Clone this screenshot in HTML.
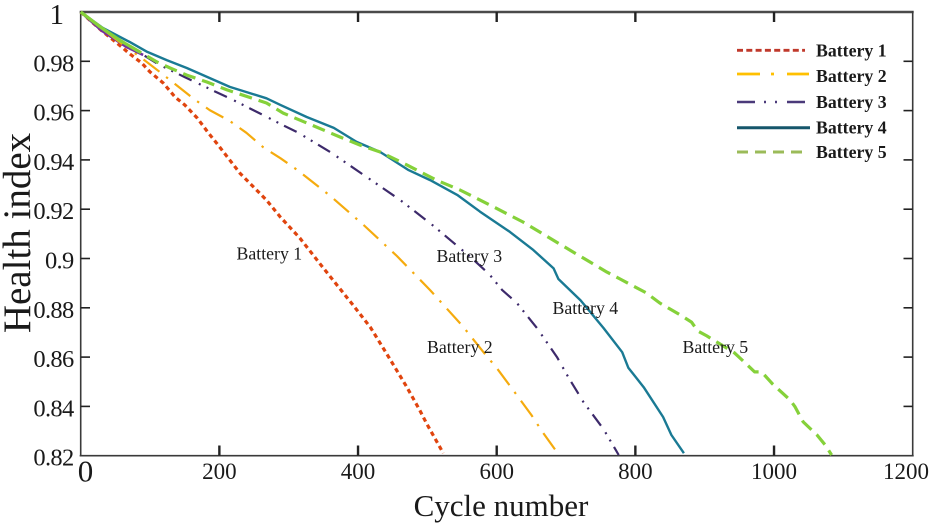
<!DOCTYPE html>
<html>
<head>
<meta charset="utf-8">
<title>Battery health index</title>
<style>
html,body{margin:0;padding:0;background:#fff;width:931px;height:526px;overflow:hidden}
svg{display:block}
text{font-family:"Liberation Serif",serif;fill:#1a1a1a}
</style>
</head>
<body>
<svg id="chart" xmlns="http://www.w3.org/2000/svg" width="931" height="526" viewBox="0 0 931 526">
<rect x="80.7" y="12" width="832" height="443.7" fill="none" stroke="none"/>
<text transform="translate(30,233) rotate(-90)" font-size="39" text-anchor="middle">Health index</text>
<text x="501" y="516" font-size="31" text-anchor="middle">Cycle number</text>
</svg>
<script>
const xTicks = [0, 200, 400, 600, 800, 1000, 1200];
const yTicks = [1, 0.98, 0.96, 0.94, 0.92, 0.9, 0.88, 0.86, 0.84, 0.82];
const yTickLabels = ['1', '0.98', '0.96', '0.94', '0.92', '0.9', '0.88', '0.86', '0.84', '0.82'];
const seriesNames = ['Battery 1', 'Battery 2', 'Battery 3', 'Battery 4', 'Battery 5'];

const battery1Cycles = [0, 30, 61, 69, 88, 100, 119, 136, 150, 168, 184, 196, 230, 268, 288, 316, 350, 393, 418, 442, 470, 489, 499, 523];
const battery1Health = [1, .9925, .9854, .9834, .9793, .9757, .9712, .9655, .9623, .957, .951, .9468, .9345, .9237, .9168, .9083, .8961, .881, .872, .861, .848, .8385, .833, .821];

const battery2Cycles = [0, 30, 60, 88, 114, 136, 162, 186, 215, 239, 263, 288, 312, 360, 408, 456, 504, 552, 581, 601, 629, 650, 666, 688];
const battery2Health = [1, .9935, .987, .9813, .9757, .9708, .965, .9602, .9558, .951, .9452, .9407, .936, .9254, .9136, .901, .8872, .8722, .862, .8552, .8446, .8365, .8296, .821];

const battery3Cycles = [0, 30, 66, 90, 114, 150, 168, 198, 215, 263, 288, 314, 362, 410, 461, 509, 562, 589, 608, 629, 658, 687, 703, 725, 754, 776];
const battery3Health = [1, .9925, .9858, .9826, .9785, .9736, .9712, .9672, .965, .9582, .9546, .951, .9428, .9335, .9237, .9132, .9006, .8937, .8872, .882, .8718, .86, .852, .8418, .8308, .8203];

const battery4Cycles = [0, 32, 71, 96, 124, 153, 215, 268, 288, 326, 365, 398, 432, 472, 504, 543, 576, 619, 653, 682, 689, 721, 754, 781, 790, 812, 840, 852, 870];
const battery4Health = [1, .9935, .9878, .9838, .9805, .9773, .9696, .965, .9623, .9574, .953, .9473, .9432, .936, .9318, .9258, .919, .9108, .9034, .896, .8917, .883, .8718, .862, .8556, .8478, .8357, .8284, .821];

const battery5Cycles = [0, 28, 56, 85, 110, 129, 153, 182, 211, 268, 292, 336, 374, 403, 432, 470, 513, 547, 595, 638, 686, 759, 778, 816, 835, 867, 881, 890, 903, 943, 960, 972, 982, 998, 1023, 1030, 1042, 1062, 1074, 1083];
const battery5Health = [1, .994, .9886, .9838, .9797, .9773, .9744, .9716, .9684, .9631, .959, .9538, .9493, .946, .9432, .938, .9318, .9278, .921, .9148, .9067, .8945, .8917, .886, .882, .8767, .8742, .8706, .8686, .8617, .8572, .854, .854, .8491, .8426, .84, .8337, .8284, .8243, .8203];

const svgNS = 'http://www.w3.org/2000/svg';
const svg = document.getElementById('chart');
const X = v => 80.7 + (v / 1200) * 832;
const Y = v => 12 + ((1 - v) / 0.18) * 443.7;

function line(x1, y1, x2, y2, color, width) {
  const el = document.createElementNS(svgNS, 'line');
  el.setAttribute('x1', x1);
  el.setAttribute('y1', y1);
  el.setAttribute('x2', x2);
  el.setAttribute('y2', y2);
  el.setAttribute('stroke', color);
  el.setAttribute('stroke-width', width);
  svg.appendChild(el);
  return el;
}
function label(str, x, y, size, anchor, weight) {
  const el = document.createElementNS(svgNS, 'text');
  el.setAttribute('x', x);
  el.setAttribute('y', y);
  el.setAttribute('font-size', size);
  el.setAttribute('text-anchor', anchor);
  if (weight) el.setAttribute('font-weight', weight);
  el.textContent = str;
  svg.appendChild(el);
  return el;
}

/* frame */
const frameTop = line(79.7, 12, 913.7, 12, '#4a4a4a', 2.4);


const frameBottom = line(79.7, 455.7, 913.7, 455.7, '#3a3a3a', 1.6);


const frameLeft = line(80.7, 11, 80.7, 456.5, '#3a3a3a', 1.6);


const frameRight = line(912.7, 11, 912.7, 456.5, '#3a3a3a', 1.6);



/* x ticks */
xTicks.forEach(function (t) {
  if (t !== 0 && t !== 1200) {
    const a = line(X(t), 455.7, X(t), 445.5, '#222', 2.4);
    
    
    const b = line(X(t), 12, X(t), 22, '#222', 2.4);
    
    
  }
  const isZero = t === 0;
  const lab = label(String(t), isZero ? 85.5 : (t === 1200 ? 906 : X(t)), isZero ? 481.5 : 479, isZero ? 31 : 23, 'middle');
  
  
});

/* y ticks */
yTicks.forEach(function (t, i) {
  if (t !== 1 && t !== 0.82) {
    const a = line(80.7, Y(t), 90, Y(t), '#222', 1.6);
    
    
    const b = line(903.5, Y(t), 912.7, Y(t), '#222', 1.6);
    
    
  }
  const isOne = t === 1;
  const lab = label(yTickLabels[i], isOne ? 64 : 73.5, isOne ? 24 : (t === 0.82 ? 465.5 : Y(t) + 10), isOne ? 29 : 24.5, 'end');
  if (!isOne) lab.setAttribute('letter-spacing', '-0.7');
  
  
});

/* series */
function drawSeries(cycles, health, color, width, dash) {
  const el = document.createElementNS(svgNS, 'polyline');
  el.setAttribute('points', cycles.map((c, i) => X(c).toFixed(1) + ',' + Y(health[i]).toFixed(1)).join(' '));
  el.setAttribute('fill', 'none');
  el.setAttribute('stroke', color);
  el.setAttribute('stroke-width', width);
  el.setAttribute('stroke-linejoin', 'round');
  if (dash) el.setAttribute('stroke-dasharray', dash);
  svg.appendChild(el);
  return el;
}
const s1 = drawSeries(battery1Cycles, battery1Health, '#e0440e', 3.2, '4.5 3.6');


const s2 = drawSeries(battery2Cycles, battery2Health, '#f5ab0e', 2.2, '20 8.5 2.4 8.5');


const s3 = drawSeries(battery3Cycles, battery3Health, '#3d2a6b', 2.2, '14 8 2 6.5 2 6.5');



/* densely sampled early cycles read as solid strokes in the source figure */
const s3Early = drawSeries(battery3Cycles.slice(0, 4), battery3Health.slice(0, 4), '#7030a0', 2.6);


const s2Early = drawSeries(battery2Cycles.slice(0, 3), battery2Health.slice(0, 3), '#f5ab0e', 2.4);



const s4 = drawSeries(battery4Cycles, battery4Health, '#1a7a94', 2.4);


const s5 = drawSeries(battery5Cycles, battery5Health, '#85d13a', 3.2, '13 7');


const s5Early = drawSeries(battery5Cycles.slice(0, 4), battery5Health.slice(0, 4), '#85d13a', 3.2);



/* inline series annotations */
const ann1 = label(seriesNames[0], 236.5, 259.5, 17.8, 'start');


const ann2 = label(seriesNames[1], 427, 353, 17.8, 'start');


const ann3 = label(seriesNames[2], 436.5, 262, 17.8, 'start');


const ann4 = label(seriesNames[3], 552.5, 314, 17.8, 'start');


const ann5 = label(seriesNames[4], 682.5, 353, 17.8, 'start');



/* legend */
const k1 = line(737, 50.3, 805, 50.3, '#c0392b', 2.8);
k1.setAttribute('stroke-dasharray', '6 3.3');


const k2 = line(737, 74, 809, 74, '#ffc000', 2.8);
k2.setAttribute('stroke-dasharray', '23 11 3 13 22');


const k3 = line(737, 102, 806, 102, '#4b3a7a', 2.4);
k3.setAttribute('stroke-dasharray', '18 9 2 9 2 10 18');


const k4 = line(737, 127.7, 810, 127.7, '#15566b', 3);


const k5 = line(737, 152, 802, 152, '#9bbb59', 3);
k5.setAttribute('stroke-dasharray', '11 7');



const l1 = label(seriesNames[0], 816, 56.5, 17.8, 'start', 'bold');


const l2 = label(seriesNames[1], 816, 82, 17.8, 'start', 'bold');


const l3 = label(seriesNames[2], 816, 108, 17.8, 'start', 'bold');


const l4 = label(seriesNames[3], 816, 133.5, 17.8, 'start', 'bold');


const l5 = label(seriesNames[4], 816, 158, 17.8, 'start', 'bold');


</script>
</body>
</html>
